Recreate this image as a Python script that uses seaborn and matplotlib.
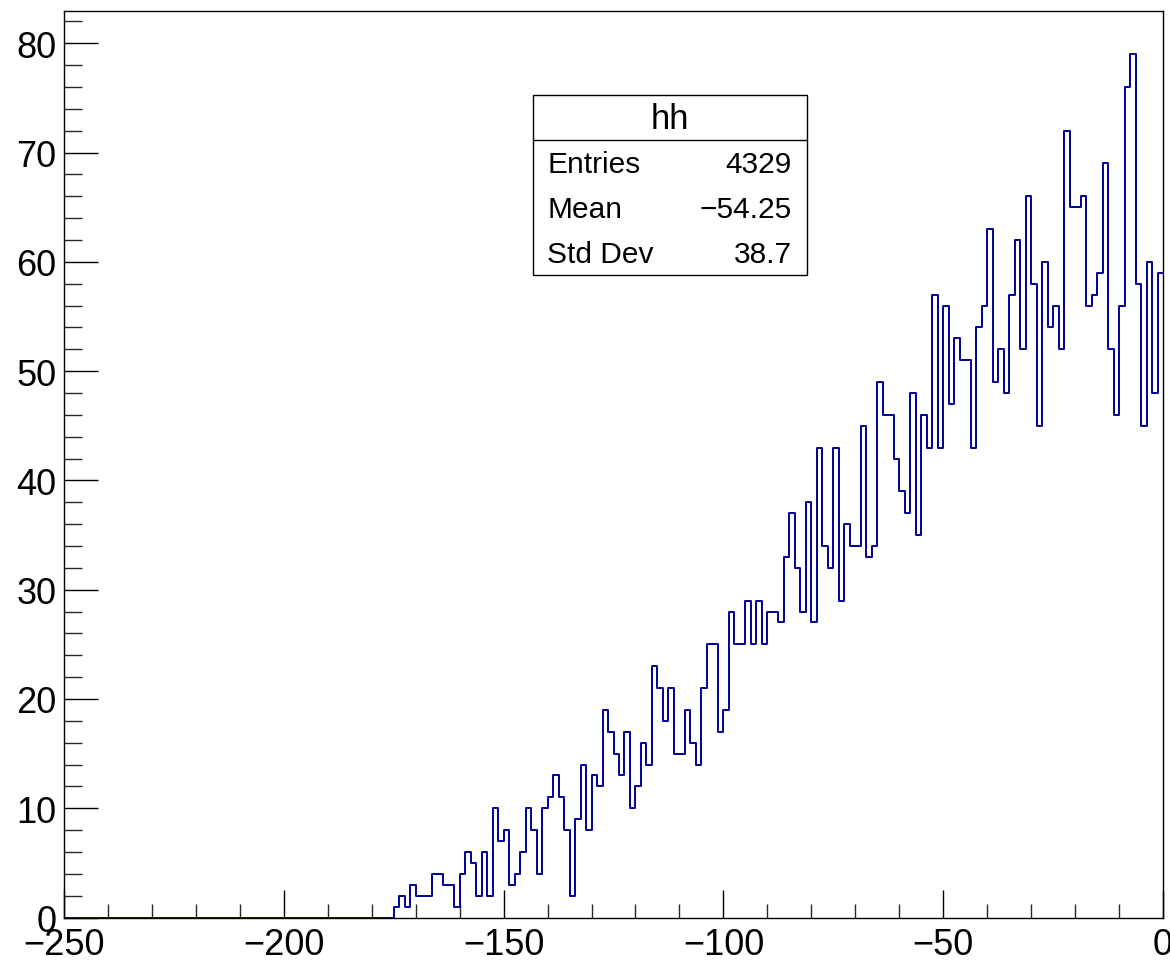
import numpy as np
import pandas as pd
import matplotlib
matplotlib.use("Agg")
import matplotlib.pyplot as plt
from matplotlib.patches import Rectangle
from matplotlib.ticker import MultipleLocator
import seaborn as sns

# ---- data (histogram "hh": 200 bins from -250 to 0, non-empty from -175) ----
x_min, x_max, n_bins = -250.0, 0.0, 200
first_filled_edge = -175.0
counts = [1, 2, 1, 3, 2, 2, 2, 4, 4, 3, 3, 1, 4, 6, 5, 2, 6, 2, 10, 7, 8, 3, 4, 6,
          10, 8, 4, 10, 11, 13, 11, 8, 2, 9, 14, 8, 13, 12, 19, 17, 15, 13, 17, 10, 12, 16, 14, 23,
          21, 18, 21, 15, 15, 19, 16, 14, 21, 25, 25, 17, 19, 28, 25, 25, 29, 25, 29, 25, 28, 28, 27, 33,
          37, 32, 28, 38, 27, 43, 34, 32, 43, 29, 36, 34, 34, 45, 33, 34, 49, 46, 46, 42, 39, 37, 48,
          35, 46, 43, 57, 43, 56, 47, 53, 51, 51, 43, 54, 56, 63, 49, 52, 48, 57, 62, 52, 66, 58, 45, 60,
          54, 56, 52, 72, 65, 65, 66, 56, 57, 59, 69, 52, 46, 56, 76, 79, 58, 45, 60, 48, 59]
stats_title = "hh"
stats_labels = ["Entries", "Mean", "Std Dev"]
stats_values = ["4329", "\u221254.25", "38.7"]
x_ticks = [-250, -200, -150, -100, -50, 0]
y_ticks = [0, 10, 20, 30, 40, 50, 60, 70, 80]

# build full bin table
width = (x_max - x_min) / n_bins
centers = x_min + width * (np.arange(n_bins) + 0.5)
n_empty = int(round((first_filled_edge - x_min) / width))
weights = np.concatenate([np.zeros(n_empty), np.array(counts, dtype=float)])
df = pd.DataFrame({"x": centers, "w": weights})

sns.set_style("ticks")
plt.rcParams["font.family"] = ["Liberation Sans", "DejaVu Sans"]
plt.rcParams["text.color"] = "black"

W, H = 1170, 962
fig = plt.figure(figsize=(W / 100, H / 100), dpi=100)
ax_l, ax_r, ax_t, ax_b = 64, 1163, 12, 918.5
ax = fig.add_axes([ax_l / W, 1 - ax_b / H, (ax_r - ax_l) / W, (ax_b - ax_t) / H])

line_col = "#000099"
sns.histplot(data=df, x="x", weights="w", bins=n_bins, binrange=(x_min, x_max),
             element="step", fill=False, color=line_col, linewidth=1.4, ax=ax)

ax.set_xlim(x_min, x_max)
ax.set_ylim(0, 1.05 * max(counts))
ax.set_xlabel("")
ax.set_ylabel("")
ax.set_xticks(x_ticks)
ax.set_yticks(y_ticks)
ax.xaxis.set_minor_locator(MultipleLocator(10))
ax.yaxis.set_minor_locator(MultipleLocator(2))

for s in ax.spines.values():
    s.set_visible(True)
    s.set_linewidth(1.0)
    s.set_color("black")

px = 0.72  # points per pixel at dpi 100
ax.tick_params(axis="x", which="major", direction="in", length=28 * px, width=1.0,
               labelsize=26, pad=7, colors="black", top=False)
ax.tick_params(axis="x", which="minor", direction="in", length=14 * px, width=1.0, top=False)
ax.tick_params(axis="y", which="major", direction="in", length=34 * px, width=1.0,
               labelsize=26, pad=5.5, colors="black", right=False)
ax.tick_params(axis="y", which="minor", direction="in", length=18 * px, width=1.0, right=False)
for lab in ax.get_xticklabels() + ax.get_yticklabels():
    lab.set_clip_on(False)

# ---- stats box ----
bx0, bx1, by0, by1 = 533, 807, 96, 276
def fx(x):
    return x / W
def fy(y):
    return 1 - y / H

fig.add_artist(Rectangle((fx(bx0), fy(by1)), fx(bx1) - fx(bx0), fy(by0) - fy(by1),
                         transform=fig.transFigure, facecolor="white", edgecolor="black",
                         linewidth=1.0, zorder=5))
row_h = (by1 - by0) / 4
fig.add_artist(plt.Line2D([fx(bx0), fx(bx1)], [fy(by0 + row_h), fy(by0 + row_h)],
                          transform=fig.transFigure, color="black", linewidth=1.0, zorder=6))
fig.text(fx((bx0 + bx1) / 2), fy(by0 + row_h / 2 + 1), stats_title, ha="center", va="center",
         fontsize=25, color="black", zorder=7)
for i, (lab, val) in enumerate(zip(stats_labels, stats_values)):
    yc = by0 + row_h * (i + 1.5) + 1.5
    fig.text(fx(547), fy(yc), lab, ha="left", va="center", fontsize=21.5, color="black", zorder=7)
    fig.text(fx(792), fy(yc), val, ha="right", va="center", fontsize=21.5, color="black", zorder=7)

fig.savefig("out.png", dpi=100)
